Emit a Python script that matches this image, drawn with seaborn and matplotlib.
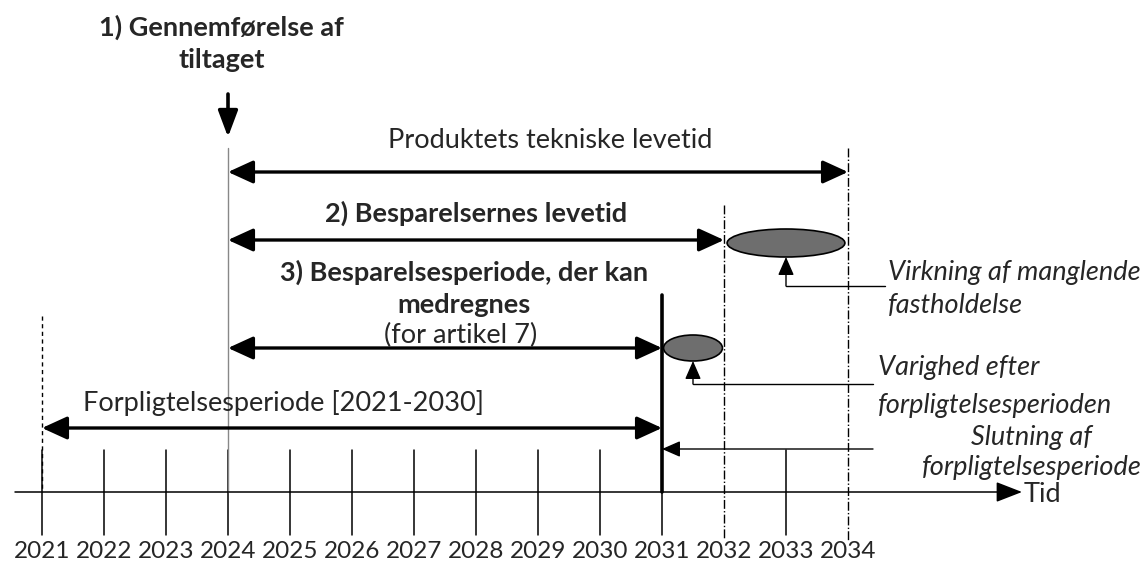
import numpy as np
import pandas as pd
import matplotlib
matplotlib.use("Agg")
import matplotlib.pyplot as plt
import seaborn as sns
from matplotlib.patches import Ellipse

sns.set_theme(style="white")
plt.rcParams['font.family'] = ['Lato', 'DejaVu Sans']

# --- data ---
years = list(range(2021, 2035))
start_year = 2024          # 1) Gennemførelse af tiltaget
end_commit = 2031          # slutning af forpligtelsesperiode
tech_end = 2034            # produktets tekniske levetid
savings_end = 2032         # besparelsernes levetid
commit_start = 2021

periods = ["Produktets tekniske levetid", "2) Besparelsernes levetid",
           "3) Besparelsesperiode", "Forpligtelsesperiode [2021-2030]"]
period_start = [2024, 2024, 2024, 2021]
period_end = [2034, 2032, 2031, 2031]

effects = ["Virkning af manglende fastholdelse", "Varighed efter forpligtelsesperioden"]
effect_start = [2032, 2031]
effect_end = [2034, 2032]

# --- layout (vertical levels, pixel-like units) ---
AXIS_Y = 69
row_y = [389, 321, 213, 133]
effect_y = [318, 213]
FS = 19.5

fig = plt.figure(figsize=(11.47, 5.61), dpi=100)
ax = fig.add_axes([0, 0, 1, 1])
x0 = 2021 - 42 / 62.0
ax.set_xlim(x0, x0 + 1147 / 62.0)
ax.set_ylim(0, 561)
ax.axis("off")

# year ticks via seaborn
tick_df = pd.DataFrame({
    "year": np.repeat(years, 2),
    "x": np.repeat(years, 2),
    "y": [111, 26] * len(years),
})
tick_df = tick_df[~tick_df["year"].isin([2032, 2034])]
sns.lineplot(data=tick_df, x="x", y="y", units="year", estimator=None,
             color="black", lw=1.1, ax=ax, legend=False)
ax.set_xlabel(None)
ax.set_ylabel(None)

# time axis
ax.annotate("", xy=(x0 + 1022 / 62.0, AXIS_Y), xytext=(x0 + 15 / 62.0, AXIS_Y),
            arrowprops=dict(arrowstyle="-|>,head_length=0.9,head_width=0.35",
                            mutation_scale=18, color="black", lw=1.1,
                            shrinkA=0, shrinkB=0))
ax.text(x0 + 1024 / 62.0, AXIS_Y - 2, "Tid", fontsize=FS, va="center", ha="left")

for y in years:
    ax.text(y, 10, str(y), fontsize=17.5, ha="center", va="center")

# vertical reference lines
ax.plot([start_year, start_year], [413, AXIS_Y], color="#888888", lw=1.0)
ax.plot([commit_start, commit_start], [245, AXIS_Y], color="black", lw=1.0, ls=(0, (3, 2.5)))
ax.plot([end_commit, end_commit], [266, AXIS_Y], color="black", lw=2.6)
ax.plot([savings_end, savings_end], [356, 21], color="black", lw=1.0, ls="-.")
ax.plot([tech_end, tech_end], [413, 21], color="black", lw=1.0, ls="-.")

# period arrows
for s, e, y in zip(period_start, period_end, row_y):
    ax.annotate("", xy=(e, y), xytext=(s, y),
                arrowprops=dict(arrowstyle="<|-|>,head_length=0.7,head_width=0.32",
                                mutation_scale=22, color="black", lw=2.4,
                                shrinkA=0, shrinkB=0))

ax.text(2029.2, 421, periods[0], fontsize=FS, ha="center", va="center")
ax.text(2028.0, 348, periods[1], fontsize=FS, ha="center", va="center", fontweight="bold")
ax.text(2027.8, 289, "3) Besparelsesperiode, der kan", fontsize=FS, ha="center",
        va="center", fontweight="bold")
ax.text(2027.8, 256, "medregnes", fontsize=FS, ha="center", va="center", fontweight="bold")
ax.text(2027.75, 226, "(for artikel 7)", fontsize=FS, ha="center", va="center")
ax.text(2024.9, 158, periods[3], fontsize=FS, ha="center", va="center")

# top label and arrow
ax.text(start_year - 0.1, 534, "1) Gennemførelse af", fontsize=FS, ha="center",
        va="center", fontweight="bold")
ax.text(start_year - 0.1, 501, "tiltaget", fontsize=FS, ha="center", va="center",
        fontweight="bold")
ax.annotate("", xy=(start_year, 424), xytext=(start_year, 467),
            arrowprops=dict(arrowstyle="-|>,head_length=0.8,head_width=0.3",
                            mutation_scale=20, color="black", lw=2.6,
                            shrinkA=0, shrinkB=0))

# effect ellipses
for s, e, y, h in zip(effect_start, effect_end, effect_y, [28, 26]):
    ax.add_patch(Ellipse(((s + e) / 2, y), (e - s) * 0.95, h,
                         facecolor="#6e6e6e", edgecolor="black", lw=1.2, zorder=3))

# callouts
cx1 = (effect_start[0] + effect_end[0]) / 2
ax.plot([cx1, x0 + 885 / 62.0], [275, 275], color="black", lw=1.0)
ax.annotate("", xy=(cx1, effect_y[0] - 14), xytext=(cx1, 275),
            arrowprops=dict(arrowstyle="-|>,head_length=0.8,head_width=0.35",
                            mutation_scale=14, color="black", lw=1.0,
                            shrinkA=0, shrinkB=0))
ax.text(x0 + 888 / 62.0, 289, "Virkning af manglende", fontsize=FS, style="italic",
        ha="left", va="center")
ax.text(x0 + 888 / 62.0, 256, "fastholdelse", fontsize=FS, style="italic",
        ha="left", va="center")

cx2 = (effect_start[1] + effect_end[1]) / 2
ax.plot([cx2, x0 + 873 / 62.0], [177, 177], color="black", lw=1.0)
ax.annotate("", xy=(cx2, effect_y[1] - 13), xytext=(cx2, 177),
            arrowprops=dict(arrowstyle="-|>,head_length=0.8,head_width=0.35",
                            mutation_scale=14, color="black", lw=1.0,
                            shrinkA=0, shrinkB=0))
ax.text(x0 + 878 / 62.0, 193, "Varighed efter", fontsize=FS, style="italic",
        ha="left", va="center")
ax.text(x0 + 878 / 62.0, 156, "forpligtelsesperioden", fontsize=FS, style="italic",
        ha="left", va="center")

# end of commitment period
ax.annotate("", xy=(end_commit, 112), xytext=(x0 + 873 / 62.0, 112),
            arrowprops=dict(arrowstyle="-|>,head_length=0.8,head_width=0.35",
                            mutation_scale=14, color="black", lw=1.0,
                            shrinkA=0, shrinkB=0))
ax.text(x0 + 1032 / 62.0, 124, "Slutning af", fontsize=FS, style="italic",
        ha="center", va="center")
ax.text(x0 + 1032 / 62.0, 93, "forpligtelsesperiode", fontsize=FS, style="italic",
        ha="center", va="center")

fig.savefig("out.png", dpi=100)
